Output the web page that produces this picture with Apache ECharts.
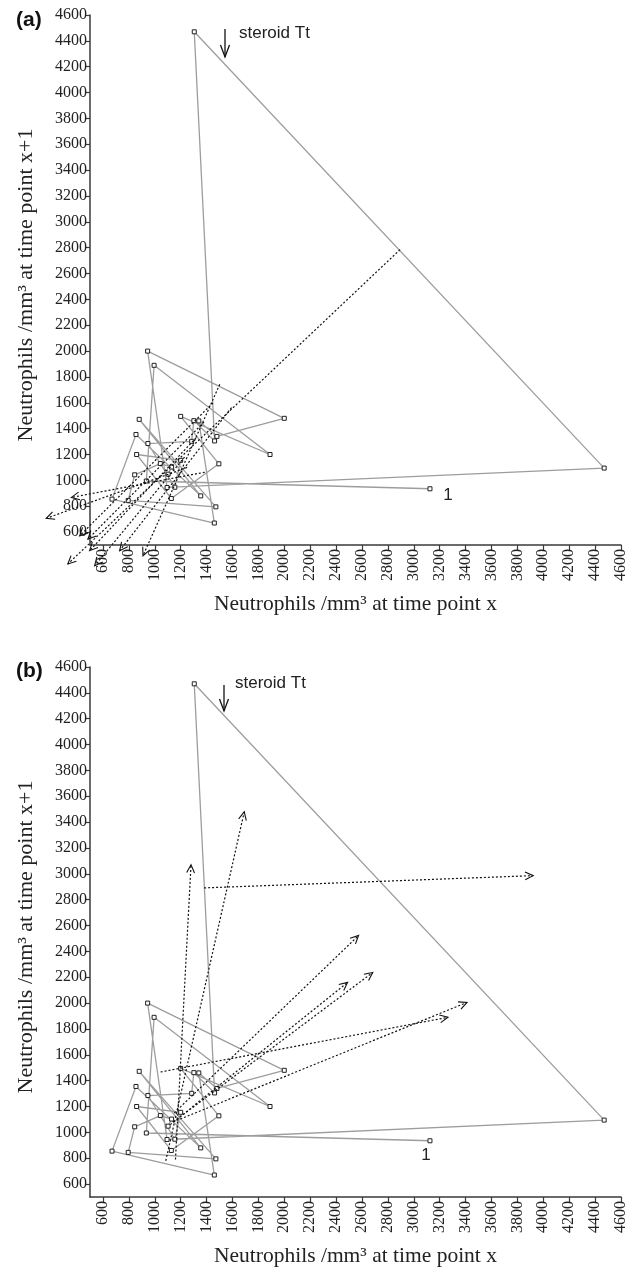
<!DOCTYPE html>
<html>
<head>
<meta charset="utf-8">
<script src="https://cdn.jsdelivr.net/npm/echarts@6/dist/echarts.min.js"></script>
<style>
html,body{margin:0;padding:0;background:#fff;}
#chart{width:642px;height:1270px;}
</style>
</head>
<body>
<div id="chart"></div>
<script>
// Neutrophil counts (/mm3) at successive time points (lag plot: x = time t, y = time t+1)
const neutrophils = [3125, 935, 995, 1890, 1200, 1495, 1128, 860, 1200, 1155, 947, 1285, 1302, 1462,
  1305, 4470, 1095, 945, 2000, 1480, 1340, 1460, 670, 855, 1355, 880, 1472, 795, 845, 1043, 1130, 1103, 1048];

// Tick values shared by both axes of both panels
const tickValues = [600, 800, 1000, 1200, 1400, 1600, 1800, 2000, 2200, 2400, 2600, 2800, 3000,
  3200, 3400, 3600, 3800, 4000, 4200, 4400, 4600];

// Dotted arrows, panel (a): [fromX, fromY, toX, toY]
const arrowsA = [
  [2894, 2785, 329, 353],
  [1502, 1743, 909, 417],
  [1593, 1563, 729, 456],
  [1450, 1600, 420, 571],
  [1380, 1450, 484, 546],
  [1320, 1330, 497, 456],
  [1230, 1180, 536, 340],
  [1386, 1063, 356, 868],
  [1250, 1100, 162, 706]
];

// Dotted arrows, panel (b): [fromX, fromY, toX, toY]
const arrowsB = [
  [1160, 790, 1280, 3071],
  [1085, 780, 1691, 3480],
  [1381, 2891, 3922, 2986],
  [1150, 1150, 2574, 2523],
  [1170, 1100, 2683, 2237],
  [1120, 1060, 2489, 2160],
  [1140, 1080, 3411, 2005],
  [1045, 1467, 3264, 1890]
];

const xTitle = 'Neutrophils /mm\u00B3 at time point x';
const yTitle = 'Neutrophils /mm\u00B3 at time point x+1';
const panelLabels = ['(a)', '(b)'];
const annotation = 'steroid Tt';
const startLabel = '1';

const SERIF = "'Liberation Serif', 'Times New Roman', serif";
const SANS = "'Liberation Sans', Arial, sans-serif";
const AXIS_COLOR = '#3a3a3a';

const pairs = neutrophils.slice(0, -1).map((v, i) => [v, neutrophils[i + 1]]);

function xAxisFor(idx) {
  return {
    type: 'value', gridIndex: idx, min: 500, max: 4600,
    splitLine: {show: false},
    axisLine: {show: true, onZero: false, lineStyle: {color: AXIS_COLOR, width: 1.5}},
    axisTick: {show: true, length: 5, customValues: tickValues, lineStyle: {color: AXIS_COLOR, width: 1.2}},
    axisLabel: {customValues: tickValues, formatter: v => String(v), rotate: 90, margin: 4,
      color: '#222', fontFamily: SERIF, fontSize: 16},
    name: xTitle, nameLocation: 'middle', nameGap: 48,
    nameTextStyle: {color: '#222', fontFamily: SERIF, fontSize: 21.5}
  };
}
function yAxisFor(idx) {
  return {
    type: 'value', gridIndex: idx, min: 500, max: 4600,
    splitLine: {show: false},
    axisLine: {show: true, onZero: false, lineStyle: {color: AXIS_COLOR, width: 1.5}},
    axisTick: {show: true, length: 5, customValues: tickValues, lineStyle: {color: AXIS_COLOR, width: 1.2}},
    axisLabel: {customValues: tickValues, formatter: v => String(v), margin: 3,
      color: '#222', fontFamily: SERIF, fontSize: 16},
    name: yTitle, nameLocation: 'middle', nameGap: 53,
    nameTextStyle: {color: '#222', fontFamily: SERIF, fontSize: 22, padding: [0, 10, 0, 0]}
  };
}

function pathSeries(idx, labelOffset) {
  return {
    type: 'line', xAxisIndex: idx, yAxisIndex: idx,
    data: pairs.map((p, i) => i === 0 ? {
      value: p,
      label: {show: true, formatter: startLabel, position: 'inside', offset: labelOffset,
        color: '#222', fontFamily: SANS, fontSize: 17}
    } : p),
    symbol: 'rect', symbolSize: 4, showSymbol: true,
    lineStyle: {color: '#9d9d9d', width: 1.3},
    itemStyle: {color: '#ffffff', borderColor: '#222', borderWidth: 1},
    z: 3, silent: true, animation: false
  };
}

function arrowSeries(idx, arrows) {
  return {
    type: 'custom', xAxisIndex: idx, yAxisIndex: idx, clip: false,
    data: arrows, encode: {x: [0, 2], y: [1, 3]},
    z: 4, silent: true, animation: false,
    renderItem: function (params, api) {
      const p0 = api.coord([api.value(0), api.value(1)]);
      const p1 = api.coord([api.value(2), api.value(3)]);
      const ang = Math.atan2(p1[1] - p0[1], p1[0] - p0[0]);
      const L = 9, a = Math.PI / 7;
      const h1 = [p1[0] - L * Math.cos(ang - a), p1[1] - L * Math.sin(ang - a)];
      const h2 = [p1[0] - L * Math.cos(ang + a), p1[1] - L * Math.sin(ang + a)];
      return {
        type: 'group',
        children: [
          {type: 'line', shape: {x1: p0[0], y1: p0[1], x2: p1[0], y2: p1[1]},
            style: {stroke: '#111', lineWidth: 1.2, lineDash: [2, 2], fill: null}},
          {type: 'polyline', shape: {points: [h1, p1, h2]},
            style: {stroke: '#111', lineWidth: 1.1, fill: null}}
        ]
      };
    }
  };
}

function steroidMark(shaftX, topY, tipY, textX, textY) {
  return [
    {type: 'line', shape: {x1: shaftX, y1: topY, x2: shaftX, y2: tipY}, style: {stroke: '#111', lineWidth: 1.3}},
    {type: 'polyline', shape: {points: [[shaftX - 4.5, tipY - 12], [shaftX, tipY], [shaftX + 4.5, tipY - 12]]},
      style: {stroke: '#111', lineWidth: 1.3, fill: null}},
    {type: 'text', x: textX, y: textY, style: {text: annotation, fill: '#222', font: '17px ' + SANS, textVerticalAlign: 'middle'}}
  ];
}

const chart = echarts.init(document.getElementById('chart'), null, {renderer: 'canvas'});
chart.setOption({
  animation: false,
  backgroundColor: '#ffffff',
  grid: [
    {left: 90, top: 15, width: 531, height: 530},
    {left: 90, top: 667, width: 531, height: 530}
  ],
  xAxis: [xAxisFor(0), xAxisFor(1)],
  yAxis: [yAxisFor(0), yAxisFor(1)],
  series: [
    pathSeries(0, [18, 7]),
    arrowSeries(0, arrowsA),
    pathSeries(1, [-4, 15]),
    arrowSeries(1, arrowsB)
  ],
  graphic: [
    {type: 'text', x: 16, y: 20, style: {text: panelLabels[0], fill: '#111', font: 'bold 21px ' + SANS, textVerticalAlign: 'middle'}},
    {type: 'text', x: 16, y: 671, style: {text: panelLabels[1], fill: '#111', font: 'bold 21px ' + SANS, textVerticalAlign: 'middle'}},
    ...steroidMark(225, 29, 57, 239, 33),
    ...steroidMark(224, 685, 711, 235, 683)
  ]
});
</script>
</body>
</html>
